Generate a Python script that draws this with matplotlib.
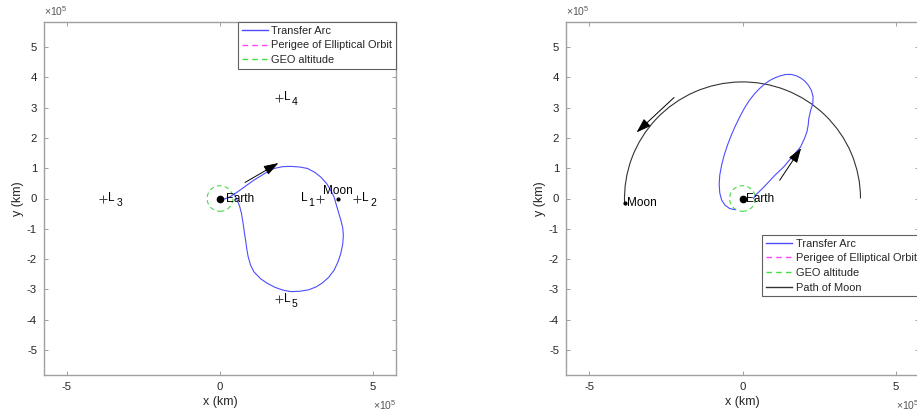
import math
import matplotlib
matplotlib.use('Agg')
import matplotlib.pyplot as plt
from matplotlib.patches import Circle, Arc
from matplotlib.lines import Line2D

plt.rcParams['font.family'] = ['Liberation Sans', 'DejaVu Sans']
plt.rcParams['mathtext.default'] = 'regular'
plt.rcParams['axes.unicode_minus'] = False

# all distances in units of 1e5 km
geo_radius = 0.42164
perigee_radius = 0.06578
moon_orbit_radius = 3.844
moon_final_angle = 182.4  # deg, where the moon ends in the inertial view

# rotating frame (left panel)
rot_arc_x = [0.05, 0.30, 0.55, 0.85, 1.10, 1.45, 1.76, 2.05, 2.29, 2.60, 2.86, 3.10,
             3.29, 3.48, 3.62, 3.73, 3.82, 3.95, 4.01, 4.03, 4.01, 3.95, 3.86, 3.73,
             3.55, 3.35, 3.15, 2.90, 2.60, 2.31, 2.05, 1.80, 1.55, 1.33, 1.11, 1.00,
             0.92, 0.88, 0.84, 0.80, 0.76, 0.70, 0.64, 0.56, 0.46]
rot_arc_y = [-0.05, 0.04, 0.20, 0.42, 0.60, 0.82, 0.99, 1.05, 1.06, 1.04, 0.99, 0.86,
             0.71, 0.50, 0.27, 0.04, -0.28, -0.72, -0.97, -1.21, -1.50, -1.80, -2.08, -2.36,
             -2.60, -2.78, -2.91, -3.01, -3.06, -3.07, -3.02, -2.93, -2.80, -2.65, -2.42, -2.20,
             -1.92, -1.70, -1.40, -1.15, -0.85, -0.49, -0.25, -0.05, 0.16]
lagrange_nums = ['1', '2', '3', '4', '5']
lagrange_x = [3.26, 4.49, -3.81, 1.92, 1.92]
lagrange_y = [0.0, 0.0, 0.0, 3.33, -3.33]
moon_rot = (3.84, 0.0)
rot_arrow_tail = (0.82, 0.53)
rot_arrow_tip = (1.91, 1.17)

# inertial frame (right panel)
in_arc_x = [0.36, 0.42, 0.62, 0.80, 1.05, 1.34, 1.60, 1.89, 2.02, 2.10, 2.14, 2.16,
            2.22, 2.29, 2.30, 2.25, 2.15, 2.04, 1.92, 1.77, 1.60, 1.42, 1.24, 1.06,
            0.90, 0.74, 0.56, 0.39, 0.22, 0.07, -0.08, -0.22, -0.36, -0.49, -0.60,
            -0.68, -0.74, -0.76, -0.74, -0.68, -0.57, -0.42, -0.24]
in_arc_y = [0.00, 0.11, 0.30, 0.49, 0.76, 1.04, 1.35, 1.70, 1.98, 2.20, 2.42, 2.64,
            2.90, 3.13, 3.35, 3.55, 3.73, 3.86, 3.96, 4.04, 4.09, 4.09, 4.05, 3.98,
            3.90, 3.79, 3.63, 3.45, 3.23, 2.99, 2.71, 2.42, 2.10, 1.76, 1.42,
            1.10, 0.78, 0.46, 0.18, -0.05, -0.22, -0.33, -0.37]
in_arrow_tail = (1.21, 0.60)
in_arrow_tip = (1.91, 1.66)
moon_arrow_tail = (-2.23, 3.33)
moon_arrow_tip = (-3.45, 2.18)

arc_color = '#4d4dff'
geo_color = '#44dd44'
peri_color = '#ff44ff'
moon_color = '#333333'
text_color = '#262626'
spine_color = '#a0a0a0'
dash = (0, (4, 3))

fig = plt.figure(figsize=(9.17, 4.17), dpi=100)
ax1 = fig.add_axes([44 / 917, 42 / 417, 352 / 917, 353 / 417])
ax2 = fig.add_axes([566 / 917, 42 / 417, 353 / 917, 353 / 417])


def style_axes(ax):
    ax.set_xlim(-5.75, 5.75)
    ax.set_ylim(-5.82, 5.82)
    ax.set_xticks([-5, 0, 5])
    ax.set_yticks(range(-5, 6))
    ax.tick_params(direction='in', length=3, width=0.7, top=True, right=True,
                   labelsize=8.2, colors=text_color, color=spine_color, pad=5)
    for s in ax.spines.values():
        s.set_color(spine_color)
        s.set_linewidth(1.0)
    ax.set_xlabel('x (km)', fontsize=9, color=text_color, labelpad=3)
    ax.set_ylabel('y (km)', fontsize=9, color=text_color, labelpad=2)
    ax.text(0.0, 1.012, '$\\times10^5$', transform=ax.transAxes, fontsize=7.5,
            color='#555555', ha='left', va='bottom')
    ax.text(1.0, -0.065, '$\\times10^5$', transform=ax.transAxes, fontsize=7.5,
            color='#555555', ha='right', va='top')


def earth_parts(ax):
    ax.add_patch(Circle((0, 0), perigee_radius, fill=False, ec=peri_color, lw=0.8, ls=dash, zorder=2))
    ax.add_patch(Circle((0, 0), geo_radius, fill=False, ec=geo_color, lw=0.8, ls=dash, zorder=2))
    ax.plot([0], [0], 'o', color='k', ms=4.5, zorder=4)


def arrow(ax, tail, tip):
    ax.annotate('', xy=tip, xytext=tail,
                arrowprops=dict(arrowstyle='-|>,head_length=0.9,head_width=0.3', color='k',
                                lw=0.7, shrinkA=0, shrinkB=0))


def lagrange_label(ax, num, x, y, left):
    # "L" with a large, lowered subscript like the reference
    if left:
        ax.annotate(num, (x, y), xytext=(-4, -3), textcoords='offset points',
                    fontsize=7.5, ha='right', va='center', color='k')
        ax.annotate('L', (x, y), xytext=(-8.5, 0.5), textcoords='offset points',
                    fontsize=8.5, ha='right', va='center', color='k')
    else:
        ax.annotate('L', (x, y), xytext=(3.5, 0.5), textcoords='offset points',
                    fontsize=8.5, ha='left', va='center', color='k')
        ax.annotate(num, (x, y), xytext=(9.2, -3), textcoords='offset points',
                    fontsize=7.5, ha='left', va='center', color='k')


# left: rotating frame
style_axes(ax1)
ax1.plot(rot_arc_x, rot_arc_y, color=arc_color, lw=0.8, zorder=3)
earth_parts(ax1)
ax1.annotate('Earth', (0, 0), xytext=(4.5, 0), textcoords='offset points',
             fontsize=8.5, color='k', ha='left', va='center', zorder=5)
ax1.plot(lagrange_x, lagrange_y, '+', color='#404040', ms=6, mew=0.7)
for num, lx, ly in zip(lagrange_nums, lagrange_x, lagrange_y):
    lagrange_label(ax1, num, lx, ly, left=(num == '1'))
ax1.plot([moon_rot[0]], [moon_rot[1]], 'o', color='k', ms=2)
ax1.annotate('Moon', moon_rot, xytext=(0, 1), textcoords='offset points',
             fontsize=8.5, ha='center', va='bottom', color='k')
arrow(ax1, rot_arrow_tail, rot_arrow_tip)

# right: inertial frame
style_axes(ax2)
ax2.add_patch(Arc((0, 0), 2 * moon_orbit_radius, 2 * moon_orbit_radius, theta1=0,
                  theta2=moon_final_angle, color=moon_color, lw=0.8, zorder=2))
ax2.plot(in_arc_x, in_arc_y, color=arc_color, lw=0.8, zorder=3)
earth_parts(ax2)
ax2.annotate('Earth', (0, 0), xytext=(2.5, 0), textcoords='offset points',
             fontsize=8.5, color='k', ha='left', va='center', zorder=5)
mx = moon_orbit_radius * math.cos(math.radians(moon_final_angle))
my = moon_orbit_radius * math.sin(math.radians(moon_final_angle))
ax2.plot([mx], [my], 'o', color='k', ms=2)
ax2.annotate('Moon', (mx, my), xytext=(2, 0), textcoords='offset points',
             fontsize=8.5, ha='left', va='center', color='k')
arrow(ax2, in_arrow_tail, in_arrow_tip)
arrow(ax2, moon_arrow_tail, moon_arrow_tip)


# legends
def handles(with_moon):
    hs = [Line2D([], [], color=arc_color, lw=1.0),
          Line2D([], [], color=peri_color, lw=1.0, ls=dash),
          Line2D([], [], color=geo_color, lw=1.0, ls=dash)]
    if with_moon:
        hs.append(Line2D([], [], color=moon_color, lw=1.0))
    return hs


leg_kw = dict(fontsize=7.9, frameon=True, fancybox=False, framealpha=1,
              edgecolor='#606060', handlelength=2.4, handletextpad=0.3,
              borderpad=0.35, labelspacing=0.42, borderaxespad=0)
leg1 = ax1.legend(handles(False),
                  ['Transfer Arc', 'Perigee of Elliptical Orbit', 'GEO altitude'],
                  loc='upper right', **leg_kw)
leg2 = ax2.legend(handles(True),
                  ['Transfer Arc', 'Perigee of Elliptical Orbit', 'GEO altitude', 'Path of Moon'],
                  loc='upper left', bbox_to_anchor=(0.556, 0.397), **leg_kw)
for leg in (leg1, leg2):
    leg.get_frame().set_linewidth(0.8)
    for t in leg.get_texts():
        t.set_color(text_color)

fig.savefig('out.png', dpi=100)
